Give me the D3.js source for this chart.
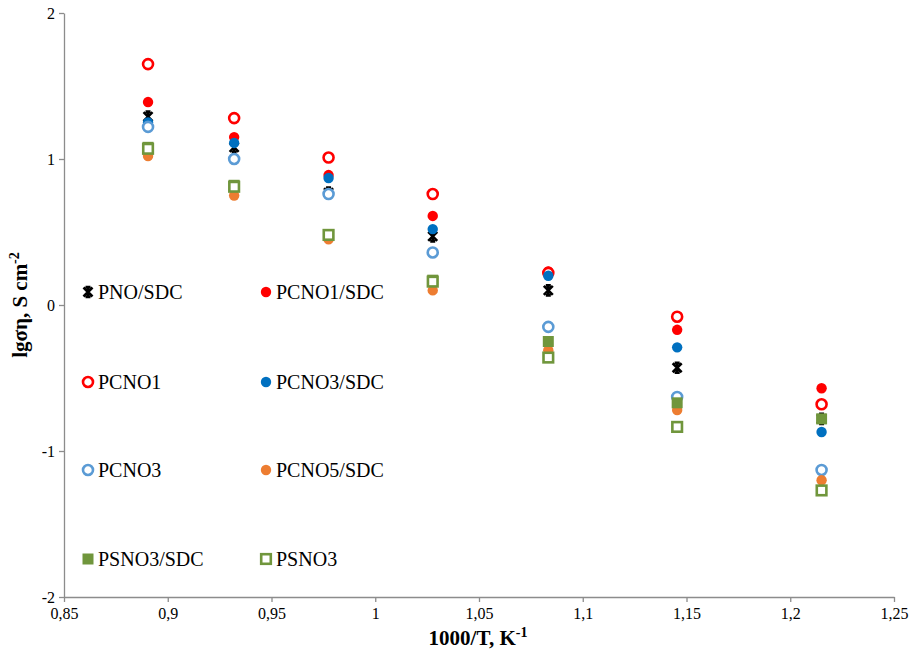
<!DOCTYPE html>
<html>
<head>
<meta charset="utf-8">
<script src="https://cdn.jsdelivr.net/npm/d3@7"></script>
<style>
  body { margin: 0; background: #fff; }
</style>
</head>
<body>
<svg id="chart" width="913" height="654" font-family="'Liberation Serif', 'Times New Roman', Times, serif"></svg>
<script>
// 1000/T positions (K^-1)
const invT = [0.8905, 0.932, 0.9775, 1.0277, 1.0834, 1.1455, 1.2151]

// lg(sigma*eta) per sample
const pnoSdc   = [1.29, 1.08, 0.77, 0.47, 0.10, -0.43, -0.78]
const pcno1Sdc = [1.39, 1.15, 0.89, 0.61, 0.23, -0.17, -0.57]
const pcno1    = [1.65, 1.28, 1.01, 0.76, 0.22, -0.08, -0.68]
const pcno3Sdc = [1.25, 1.11, 0.87, 0.52, 0.20, -0.29, -0.87]
const pcno3    = [1.22, 1.00, 0.76, 0.36, -0.15, -0.63, -1.13]
const pcno5Sdc = [1.02, 0.75, 0.45, 0.10, -0.31, -0.72, -1.20]
const psno3Sdc = [1.08, 0.82, 0.48, 0.17, -0.25, -0.67, -0.78]
const psno3    = [1.07, 0.81, 0.48, 0.16, -0.36, -0.835, -1.27]

const xTicks = [0.85, 0.9, 0.95, 1, 1.05, 1.1, 1.15, 1.2, 1.25]
const yTicks = [-2, -1, 0, 1, 2]

const series = [
  { name: 'PNO/SDC',   values: pnoSdc,   shape: 'star',   color: '#000000', filled: true },
  { name: 'PCNO1/SDC', values: pcno1Sdc, shape: 'circle', color: '#ff0000', filled: true },
  { name: 'PCNO1',     values: pcno1,    shape: 'circle', color: '#ff0000', filled: false },
  { name: 'PCNO3/SDC', values: pcno3Sdc, shape: 'circle', color: '#0070c0', filled: true },
  { name: 'PCNO3',     values: pcno3,    shape: 'circle', color: '#5b9bd5', filled: false },
  { name: 'PCNO5/SDC', values: pcno5Sdc, shape: 'circle', color: '#ed7d31', filled: true },
  { name: 'PSNO3/SDC', values: psno3Sdc, shape: 'square', color: '#70963c', filled: true },
  { name: 'PSNO3',     values: psno3,    shape: 'square', color: '#70963c', filled: false }
]

const serif = "'Liberation Serif', 'Times New Roman', Times, serif"
const svg = d3.select('#chart')
const x = d3.scaleLinear().domain([0.85, 1.25]).range([64, 894])
const y = d3.scaleLinear().domain([-2, 2]).range([597, 13])
const fmt = d => String(d).replace('.', ',')

// axes
const xAxis = svg.append('g')
  .attr('transform', `translate(0,${y(-2)})`)
  .call(d3.axisBottom(x).tickValues(xTicks).tickFormat(fmt).tickSize(5).tickSizeOuter(0))
const yAxis = svg.append('g')
  .attr('transform', `translate(${x(0.85)},0)`)
  .call(d3.axisLeft(y).tickValues(yTicks).tickFormat(d => String(d)).tickSize(5).tickSizeOuter(0))

for (const ax of [xAxis, yAxis]) {
  ax.attr('font-family', serif).attr('font-size', 16)
  ax.select('.domain').attr('stroke', '#8c8c8c').attr('stroke-width', 1.3)
  ax.selectAll('.tick line').attr('stroke', '#8c8c8c').attr('stroke-width', 1.3)
  ax.selectAll('.tick text').attr('fill', '#000')
}
xAxis.selectAll('.tick text').attr('dy', '0.9em')
yAxis.selectAll('.tick text').attr('x', -9)

// axis titles
const xt = svg.append('text')
  .attr('x', 478).attr('y', 645)
  .attr('text-anchor', 'middle')
  .attr('font-family', serif)
  .style('font-weight', 'bold').style('font-size', '21px')
xt.append('tspan').text('1000/T, K')
xt.append('tspan').attr('dy', -8).style('font-size', '14px').text('-1')

const yt = svg.append('text')
  .attr('transform', 'translate(27,305) rotate(-90)')
  .attr('text-anchor', 'middle')
  .attr('font-family', serif)
  .style('font-weight', 'bold').style('font-size', '21px')
yt.append('tspan').text('lgση, S cm')
yt.append('tspan').attr('dy', -8).style('font-size', '14px').text('-2')

function drawMarker(g, s) {
  if (s.shape === 'circle') {
    if (s.filled) {
      g.append('circle').attr('r', 5.2).attr('fill', s.color)
    } else {
      g.append('circle').attr('r', 5).attr('fill', '#fff')
        .attr('stroke', s.color).attr('stroke-width', 2.6)
    }
  } else if (s.shape === 'square') {
    if (s.filled) {
      g.append('rect').attr('x', -5.5).attr('y', -5.5).attr('width', 11).attr('height', 11)
        .attr('fill', s.color)
    } else {
      g.append('rect').attr('x', -4.8).attr('y', -4.8).attr('width', 9.6).attr('height', 9.6)
        .attr('fill', '#fff').attr('stroke', s.color).attr('stroke-width', 2.6)
    }
  } else {
    g.append('path')
      .attr('d', 'M-4.5,-4.5L4.5,4.5M-4.5,4.5L4.5,-4.5M0,-5.5L0,5.5M-2.5,-5L2.5,-5M-2.5,5L2.5,5')
      .attr('stroke', s.color).attr('stroke-width', 2.6).attr('fill', 'none')
  }
}

// points
const plot = svg.append('g')
series.forEach(s => {
  s.values.forEach((v, i) => {
    const g = plot.append('g').attr('transform', `translate(${x(invT[i])},${y(v)})`)
    drawMarker(g, s)
  })
})

// legend (two columns inside the plot)
const legendCols = [88, 266]
const legendRows = [292, 382, 470, 559]
series.forEach((s, i) => {
  const lx = legendCols[i % 2]
  const ly = legendRows[Math.floor(i / 2)]
  const g = svg.append('g').attr('transform', `translate(${lx},${ly})`)
  drawMarker(g, s)
  g.append('text').attr('x', 10).attr('y', 0).attr('dy', '0.35em')
    .attr('font-family', serif).style('font-size', '20px').text(s.name)
})
</script>
</body>
</html>
